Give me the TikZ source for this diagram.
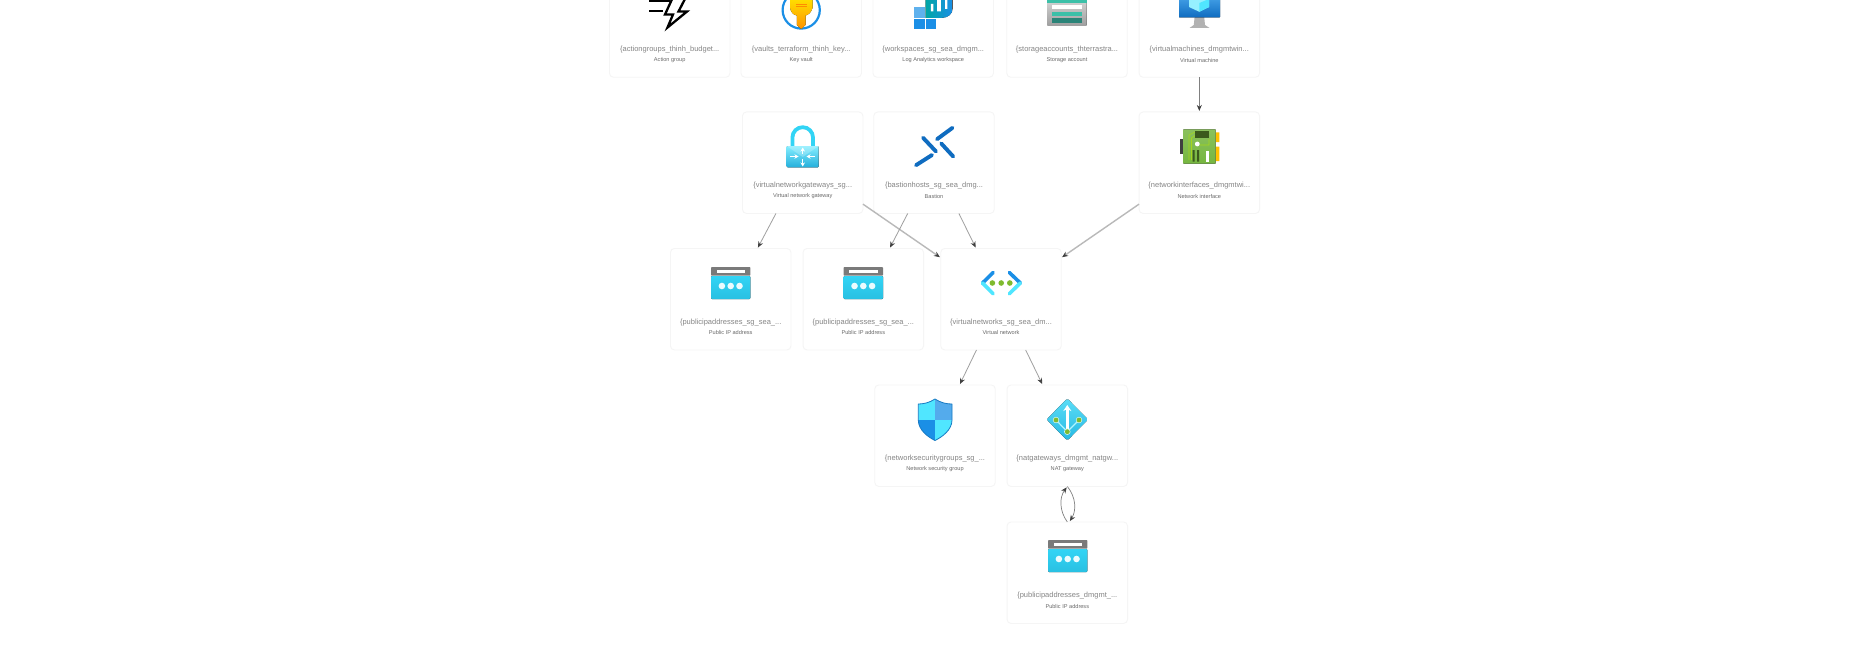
\documentclass[tikz,border=0pt]{standalone}
\usepackage{fontspec}
\setmainfont{Liberation Sans}
\usetikzlibrary{arrows.meta,calc}
\definecolor{cardline}{HTML}{F5F5F5}
\definecolor{titlegray}{HTML}{858585}
\definecolor{subgray}{HTML}{6A6A6A}
\definecolor{tipgray}{HTML}{404040}
\definecolor{azblue}{HTML}{1B8FE6}
\definecolor{azdark}{HTML}{0F6CC0}
\definecolor{azcyan}{HTML}{50E6FF}
\definecolor{pipcyan}{HTML}{32D4F5}
\definecolor{pipcyand}{HTML}{29C0E2}
\definecolor{tealA}{HTML}{3CC0A8}
\definecolor{tealB}{HTML}{2A8478}
\definecolor{greenA}{HTML}{7FBA2E}
\definecolor{nicgreen}{HTML}{76B640}
\definecolor{nicdark}{HTML}{3B5A1C}
\definecolor{nicgold}{HTML}{FFC000}
\tikzset{
  card/.style={draw=cardline,line width=0.9pt,fill=white,rounded corners=4pt,minimum width=120.5pt,minimum height=101.5pt,inner sep=0pt,outer sep=0pt},
  ctitle/.style={font=\fontsize{7.5}{9}\selectfont,text=titlegray,inner sep=0pt},
  csub/.style={font=\fontsize{5.6}{7}\selectfont,text=subgray,inner sep=0pt},
  edge/.style={draw=gray!75,line width=0.8pt,shorten >=1pt,-{Stealth[length=6pt,width=5pt,color=tipgray]}},
  edgelight/.style={edge,draw=gray!55,line width=1.4pt},
  edgedark/.style={edge,draw=gray,line width=0.9pt},
  edgeloop/.style={edge,draw=gray,line width=0.7pt},
}
% name, cx, cy, title, subtitle
\newcommand{\azcard}[5]{%
  \node[card] (#1) at (#2,#3) {};
  \node[ctitle] (#1t) at ($(#1.north)+(0,74)$) {#4};
  \node[csub] (#1s) at ($(#1.north)+(0,84.5)$) {#5};
}
% public ip icon, centre
\newcommand{\pipicon}[2]{%
  \begin{scope}[shift={(#1,#2)}]
    \fill[rounded corners=1pt,top color=pipcyan,bottom color=pipcyand] (-19.7,-7) rectangle (19.7,16);
    \fill[rounded corners=0.8pt,fill=black!52] (-19.7,-16) rectangle (19.7,-7.3);
    \fill[white] (-14,-13.3) rectangle (14.5,-9.7);
    \foreach \dx in {-8.8,0,8.8} \fill[white!90!pipcyan] (\dx,3) circle[radius=3.3];
  \end{scope}}
\begin{document}
\begin{tikzpicture}[x=1pt,y=-1pt]
\useasboundingbox (0,0) rectangle (1870,650);
\clip (0,0) rectangle (1870,650);
\fill[white] (0,0) rectangle (1870,650);

\azcard{ag}{669.7}{26.5}{\{actiongroups\_thinh\_budget...}{Action group}
\azcard{kv}{801.2}{26.5}{\{vaults\_terraform\_thinh\_key...}{Key vault}
\azcard{ws}{933.2}{26.5}{\{workspaces\_sg\_sea\_dmgm...}{Log Analytics workspace}
\azcard{st}{1067}{26.5}{\{storageaccounts\_thterrastra...}{Storage account}
\azcard{vm}{1199.3}{26.5}{\{virtualmachines\_dmgmtwin...}{Virtual machine}
\azcard{vng}{802.7}{162.7}{\{virtualnetworkgateways\_sg...}{Virtual network gateway}
\azcard{bas}{934}{162.7}{\{bastionhosts\_sg\_sea\_dmg...}{Bastion}
\azcard{nic}{1199.3}{162.7}{\{networkinterfaces\_dmgmtwi...}{Network interface}
\azcard{ipa}{730.7}{299.2}{\{publicipaddresses\_sg\_sea\_...}{Public IP address}
\azcard{ipb}{863.3}{299.2}{\{publicipaddresses\_sg\_sea\_...}{Public IP address}
\azcard{vnet}{1001}{299.2}{\{virtualnetworks\_sg\_sea\_dm...}{Virtual network}
\azcard{nsg}{935}{435.7}{\{networksecuritygroups\_sg\_...}{Network security group}
\azcard{nat}{1067.3}{435.7}{\{natgateways\_dmgmt\_natgw...}{NAT gateway}
\azcard{ipc}{1067.3}{572.7}{\{publicipaddresses\_dmgmt\_...}{Public IP address}

% connectors
\draw[edgedark] (vm) -- (nic);
\draw[edge] (vng) -- (ipa);
\draw[edgelight] (vng) -- (vnet);
\draw[edge] (bas) -- (ipb);
\draw[edge] (bas) -- (vnet);
\draw[edgelight] (nic) -- (vnet);
\draw[edge] (vnet) -- (nsg);
\draw[edge] (vnet) -- (nat);
\draw[edgeloop] (ipc.north) .. controls ($(ipc.north)+(-8,-11)$) and ($(nat.south)+(-8,11)$) .. (nat.south);
\draw[edgeloop] (nat.south) .. controls ($(nat.south)+(9,11)$) and ($(ipc.north)+(9,-11)$) .. ($(ipc.north)+(2,0)$);

% action group
\draw[black,line width=2.4pt] (649,1) -- (670,1) (649,11) -- (663,11);
\draw[black,line width=2.3pt,line join=miter] (673,-3) -- (665,14.5) -- (673,14.5) -- (667.5,27.5) -- (687,11.5) -- (678.5,11.5) -- (686,-3);

% key vault
\draw[color=azblue,line width=2.2pt,fill=white] (801.2,10) circle[radius=18.6];
\fill[top color=yellow!80!orange,bottom color=orange!85!yellow] (790,-4) -- (812.5,-4) -- (812.5,8) .. controls (811,13) and (808,15) .. (805.5,15.5) -- (805.5,25) -- (801.2,29) -- (796.8,25) -- (796.8,15.5) .. controls (793,15) and (791,12) .. (790,8) -- cycle;
\draw[orange!90!yellow,line width=0.5pt] (796,4) -- (807,4) (796,6.5) -- (807,6.5);

% log analytics
\fill[azblue!70!white] (914,7.5) rectangle (924.8,18.2);
\fill[azblue] (914,19.3) rectangle (924.8,29.5);
\fill[azblue] (925.8,19.3) rectangle (936,29.5);
\fill[left color=teal!70!cyan,right color=azblue] (925.7,-4) -- (952.7,-4) -- (952.7,8) .. controls (952.7,14) and (948,17.8) .. (942,17.8) -- (925.7,17.8) -- cycle;
\fill[white] (930.8,4) rectangle (933.4,11.5) (937.2,0) rectangle (940.8,11.5) (945,0) rectangle (947.4,9);

% storage
\fill[rounded corners=1pt,top color=black!15,bottom color=black!38] (1047.3,-3) rectangle (1086.7,26);
\fill[tealA] (1047.3,-3) rectangle (1086.7,3);
\fill[white] (1052,5) rectangle (1081.7,9.4);
\fill[tealA] (1052,11.7) rectangle (1081.7,15.8);
\fill[tealB] (1052,18.3) rectangle (1081.7,22.7);

% virtual machine
\fill[black!30] (1194.6,17) -- (1204.2,17) -- (1205,25) -- (1209.5,28) -- (1189.5,28) -- (1193.8,25) -- cycle;
\fill[top color=azblue!80!white,bottom color=azdark,rounded corners=0.5pt] (1179,-5) rectangle (1220,17.3);
\fill[azcyan!60!white] (1189,-1) -- (1199.3,-4) -- (1209,-1) -- (1209,7) -- (1199.3,11.8) -- (1189,7) -- cycle;
\fill[azcyan] (1199.3,3) -- (1209,-1) -- (1209,7) -- (1199.3,11.8) -- cycle;

% gateway
\draw[color=pipcyan,line width=3.8pt] (792.4,147) -- (792.4,137.5) arc[start angle=180,end angle=360,radius=10.3] -- (813,147);
\fill[rounded corners=1pt,top color=azcyan!70!white,bottom color=pipcyand!80!azdark] (786.7,146) rectangle (818.7,167.4);
\fill[white,opacity=.22] (786.7,146) -- (818.7,146) -- (802.7,157) -- cycle;
\begin{scope}[white,line width=1.3pt,-{Stealth[length=4pt,width=4.5pt]}]
  \draw (790,156.5) -- (798.5,156.5);
  \draw (815,156.5) -- (806.5,156.5);
  \draw (802.7,154) -- (802.7,147.5);
  \draw (802.7,159) -- (802.7,166.5);
\end{scope}

% bastion
\begin{scope}[color=azdark,line width=3.9pt,line cap=round]
  \draw (937,139.2) -- (952.5,127.8);
  \draw (923,137.7) -- (936,151.5);
  \draw (916,165.2) -- (932,155);
  \draw (941.2,143.4) -- (953.2,156.5);
\end{scope}

% network interface
\fill[black!75] (1180,139) rectangle (1183.6,153.7);
\fill[nicgold] (1215.5,132.3) rectangle (1219.3,142) (1215.5,146.7) rectangle (1219.3,161);
\fill[rounded corners=0.5pt,top color=nicgreen!85!white,bottom color=nicgreen] (1183.3,129.3) rectangle (1215.7,163.7);
\draw[yellow!65!green,line width=0.6pt] (1189,160) -- (1189,135) -- (1195,132) (1191.5,160) -- (1191.5,138) -- (1196,135) (1209,139) -- (1209,145) -- (1200,145);
\fill[nicdark] (1195,131) rectangle (1209.3,138);
\fill[white] (1197.3,144) circle[radius=2.4];
\fill[nicdark] (1192.7,150) rectangle (1194.7,161.7) (1197,150) rectangle (1199,161.7);
\fill[white] (1206,150.7) rectangle (1208.7,161.7);

% public ip icons
\pipicon{730.7}{283}
\pipicon{863.3}{283}
\pipicon{1067.7}{556}

% virtual network
\draw[color=azblue,line width=3.6pt,line cap=round] (982.5,283) -- (993.2,272.5);
\draw[color=azcyan,line width=3.6pt,line cap=round] (982.5,283) -- (993.2,293.8);
\draw[color=azblue,line width=3.6pt,line cap=round] (1020.3,283) -- (1009.3,272.5);
\draw[color=azcyan,line width=3.6pt,line cap=round] (1020.3,283) -- (1009.3,293.8);
\foreach \px in {992.4,1001.2,1009.8} \fill[greenA] (\px,283) circle[radius=2.8];

% network security group
\begin{scope}
  \clip (935,399) .. controls (941,403) and (947,404) .. (952,404) -- (952,420) .. controls (952,430) and (942,437) .. (935,440.5) .. controls (928,437) and (918.3,430) .. (918.3,420) -- (918.3,404) .. controls (923,404) and (929,403) .. (935,399) -- cycle;
  \fill[azcyan] (915,396) rectangle (935,420);
  \fill[azblue!75!white] (935,396) rectangle (955,420);
  \fill[azblue] (915,420) rectangle (935,442);
  \fill[azcyan] (935,420) rectangle (955,442);
\end{scope}
\draw[color=azblue!85!black,line width=0.8pt,line join=round] (935,399) .. controls (941,403) and (947,404) .. (952,404) -- (952,420) .. controls (952,430) and (942,437) .. (935,440.5) .. controls (928,437) and (918.3,430) .. (918.3,420) -- (918.3,404) .. controls (923,404) and (929,403) .. (935,399) -- cycle;

% nat gateway
\fill[rounded corners=1.5pt,top color=pipcyan!80!white,bottom color=pipcyand!85!azblue] (1067.3,398.5) -- (1088,419.5) -- (1067.3,440.5) -- (1046.6,419.5) -- cycle;
\draw[color=azcyan!45!white,line width=1.2pt] (1056,420) -- (1067.3,431.7) -- (1079,420);
\draw[white,line width=2.4pt,-{Stealth[length=6pt,width=8pt]}] (1067.3,431) -- (1067.3,405);
\fill[greenA,draw=white!80!azcyan,line width=0.5pt] (1056,420) circle[radius=2.9] (1079,420) circle[radius=2.9] (1067.3,431.7) circle[radius=2.9];
\end{tikzpicture}
\end{document}
